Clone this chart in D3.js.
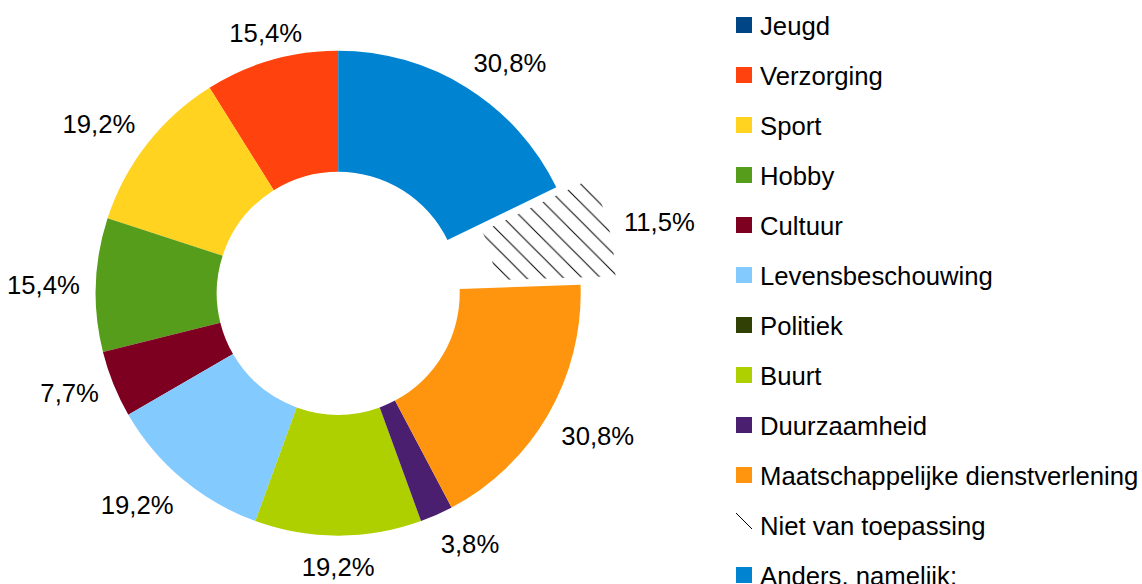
<!DOCTYPE html>
<html>
<head>
<meta charset="utf-8">
<script src="https://cdn.jsdelivr.net/npm/d3@7"></script>
<style>
  html, body { margin: 0; padding: 0; background: #fff; }
  svg { display: block; }
  text { font-family: "Liberation Sans", Arial, sans-serif; fill: #000; }
</style>
</head>
<body>
<svg id="chart" width="1142" height="584"></svg>
<script>
const categories = ["Jeugd", "Verzorging", "Sport", "Hobby", "Cultuur", "Levensbeschouwing",
  "Politiek", "Buurt", "Duurzaamheid", "Maatschappelijke dienstverlening",
  "Niet van toepassing", "Anders, namelijk:"];
const percentages = [0, 15.4, 19.2, 15.4, 7.7, 19.2, 0, 19.2, 3.8, 30.8, 11.5, 30.8];
const colors = ["#004586", "#ff420e", "#ffd320", "#579d1c", "#7e0021", "#83caff",
  "#314004", "#aecf00", "#4b1f6f", "#ff950e", "hatch", "#0084d1"];
const explodedCategories = ["Niet van toepassing"];

const data = categories.map((c, i) => ({ name: c, value: percentages[i], color: colors[i] }));

const W = 1142, H = 584;
const cx = 338.2, cy = 293.2, R = 242.5, r0 = 121.5;
const explodeDist = 36, labelGap = 20, labelPad = 4;
const fontSize = 25.7;
const hatchStep = 18.5;

const svg = d3.select("#chart");
const defs = svg.append("defs");
const T = hatchStep;
const pat = defs.append("pattern")
  .attr("id", "hatch").attr("patternUnits", "userSpaceOnUse")
  .attr("x", 12).attr("y", 0)
  .attr("width", T).attr("height", T);
pat.append("path")
  .attr("d", `M-1,-1L${T + 1},${T + 1}M-1,${T - 1}L1,${T + 1}M${T - 1},-1L${T + 1},1`)
  .attr("stroke", "#000").attr("stroke-width", 1).attr("fill", "none");

const fillOf = d => d.color === "hatch" ? "url(#hatch)" : d.color;

const pie = d3.pie().sort(null).value(d => d.value)
  .startAngle(0).endAngle(-2 * Math.PI);
const arcs = pie(data);
const arc = d3.arc().innerRadius(r0).outerRadius(R);

const g = svg.append("g").attr("transform", `translate(${cx},${cy})`);

arcs.filter(a => a.data.value > 0).forEach(a => {
  const m = (a.startAngle + a.endAngle) / 2;
  const ex = explodedCategories.includes(a.data.name) ? explodeDist : 0;
  const ox = Math.sin(m) * ex, oy = -Math.cos(m) * ex;
  g.append("path")
    .attr("d", arc(a))
    .attr("transform", `translate(${ox},${oy})`)
    .attr("fill", fillOf(a.data));

  // label
  const deg = (((m * 180 / Math.PI) % 360) + 360) % 360;
  const oct = Math.round(deg / 45) % 8;
  const lr = R + labelGap + ex;
  let x = Math.sin(m) * lr, y = -Math.cos(m) * lr;
  let anchor = "middle";
  if (oct >= 1 && oct <= 3) { anchor = "start"; x -= labelPad; }
  if (oct >= 5 && oct <= 7) { anchor = "end"; x += labelPad; }
  let dy = 1;
  if (oct === 2 || oct === 6) dy = 10;
  if (oct >= 3 && oct <= 5) dy = 20;
  g.append("text")
    .attr("x", x).attr("y", y + dy)
    .attr("text-anchor", anchor)
    .attr("font-size", fontSize)
    .text(a.data.value.toFixed(1).replace(".", ",") + "%");
});

// legend
const legend = svg.append("g").attr("transform", "translate(736,0)");
data.forEach((d, i) => {
  const yc = 25 + i * 50;
  if (d.color === "hatch") {
    legend.append("line")
      .attr("x1", 0).attr("y1", yc - 12).attr("x2", 16).attr("y2", yc + 4)
      .attr("stroke", "#000").attr("stroke-width", 1);
  } else {
    legend.append("rect")
      .attr("x", 0).attr("y", yc - 8).attr("width", 16).attr("height", 16)
      .attr("fill", d.color);
  }
  legend.append("text")
    .attr("x", 24).attr("y", yc + 10)
    .attr("font-size", fontSize)
    .text(d.name);
});
</script>
</body>
</html>
